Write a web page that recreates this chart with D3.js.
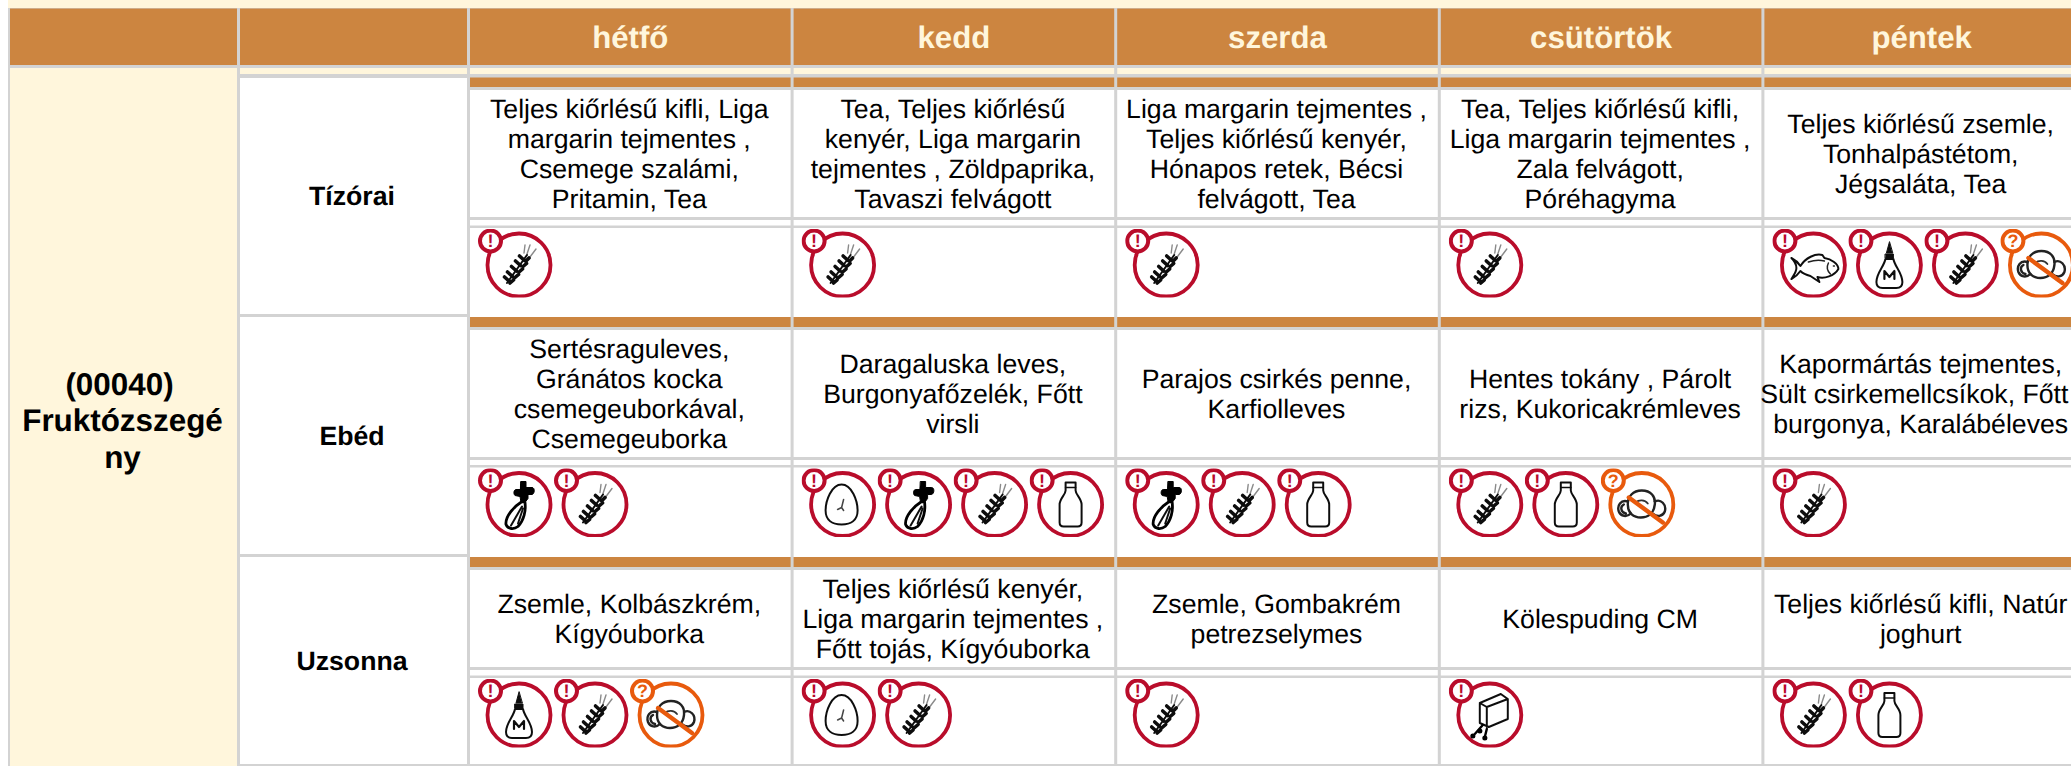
<!DOCTYPE html>
<html>
<head>
<meta charset="utf-8">
<script src="https://cdn.jsdelivr.net/npm/d3@7"></script>
<style>
  html, body { margin: 0; padding: 0; background: #fff; overflow: hidden; }
  svg { display: block; font-family: "Liberation Sans", Arial, sans-serif; text-rendering: geometricPrecision; }
</style>
</head>
<body>
<svg id="menu" width="2071" height="766"></svg>
<script>
// Adatok
const days = ["hétfő", "kedd", "szerda", "csütörtök", "péntek"];
const meals = ["Tízórai", "Ebéd", "Uzsonna"];
const dietLines = ["(00040)", "Fruktózszegé", "ny"];

const tizoraiFoods = [
  ["Teljes kiőrlésű kifli, Liga", "margarin tejmentes ,", "Csemege szalámi,", "Pritamin, Tea"],
  ["Tea, Teljes kiőrlésű", "kenyér, Liga margarin", "tejmentes , Zöldpaprika,", "Tavaszi felvágott"],
  ["Liga margarin tejmentes ,", "Teljes kiőrlésű kenyér,", "Hónapos retek, Bécsi", "felvágott, Tea"],
  ["Tea, Teljes kiőrlésű kifli,", "Liga margarin tejmentes ,", "Zala felvágott,", "Póréhagyma"],
  ["Teljes kiőrlésű zsemle,", "Tonhalpástétom,", "Jégsaláta, Tea"]
];
const ebedFoods = [
  ["Sertésraguleves,", "Gránátos kocka", "csemegeuborkával,", "Csemegeuborka"],
  ["Daragaluska leves,", "Burgonyafőzelék, Főtt", "virsli"],
  ["Parajos csirkés penne,", "Karfiolleves"],
  ["Hentes tokány , Párolt", "rizs, Kukoricakrémleves"],
  ["Kapormártás tejmentes,", "Sült csirkemellcsíkok, Főtt", "burgonya, Karalábéleves"]
];
const uzsonnaFoods = [
  ["Zsemle, Kolbászkrém,", "Kígyóuborka"],
  ["Teljes kiőrlésű kenyér,", "Liga margarin tejmentes ,", "Főtt tojás, Kígyóuborka"],
  ["Zsemle, Gombakrém", "petrezselymes"],
  ["Kölespuding CM"],
  ["Teljes kiőrlésű kifli, Natúr", "joghurt"]
];

const tizoraiIcons = [["wheat"], ["wheat"], ["wheat"], ["wheat"], ["fish", "mayo", "wheat", "soy"]];
const ebedIcons = [["celery", "wheat"], ["egg", "celery", "wheat", "milk"], ["celery", "wheat", "milk"], ["wheat", "milk", "soy"], ["wheat"]];
const uzsonnaIcons = [["mayo", "wheat", "soy"], ["egg", "wheat"], ["wheat"], ["cart"], ["wheat", "milk"]];

const foodsByMeal = [tizoraiFoods, ebedFoods, uzsonnaFoods];
const iconsByMeal = [tizoraiIcons, ebedIcons, uzsonnaIcons];
const maybeIcons = ["soy"]; // narancs keret, kérdőjel

// Színek
const brown = "#cc8540", grid = "#d3d3d3", cream = "#fff6dc";
const red = "#b9082c", amber = "#e85a0c";

// Sorok függőleges felosztása (px)
const rowBox = [
  { top: 77, bar: 77.5, text: 90, textEnd: 217, icon: 228, end: 317, labelEnd: 314 },
  { top: 317, bar: 317, text: 330, textEnd: 457, icon: 467.5, end: 557, labelEnd: 554 },
  { top: 557, bar: 557, text: 570, textEnd: 667, icon: 678, end: 764, labelEnd: 764 }
];

const x = d3.scaleBand().domain(days).range([470, 2085]).paddingInner(3 / 323).paddingOuter(0);
const xIcon = d3.scaleLinear().domain([0, 1]).range([8, 84]);
// az utolsó oszlop keskenyebb, a szövege kicsit balrább van
const textMid = d => x.bandwidth() / 2 - (d === "péntek" ? 3 : 0);
const svg = d3.select("#menu");

// Ikon rajzok
const defs = svg.append("defs");
defs.append("clipPath").attr("id", "iconClip").append("rect").attr("width", 84).attr("height", 68.5);
defs.append("filter").attr("id", "soft").append("feGaussianBlur").attr("stdDeviation", 0.55);

const glyphs = {
  wheat: [
    { d: "M49 25L52 16M52 28L58 20M46 24L47 16", stroke: "#8a8a8a", w: 1.4 },
    { d: "M29 54L49 26", stroke: "#111", w: 2 },
    { d: "M26.5 48L31 52M29.5 43L34.5 47.5M33.5 37.5L38.5 42M37.5 32L42.5 36.5M41.5 27L46.5 31.5M32 54L35.5 51M37 48.5L40.5 45.5M41 43L44.5 40M45 37.5L48.5 34.5M48 32L51 29", stroke: "#0a0a0a", w: 3.6 }
  ],
  fish: [
    { d: "M19 29C23 31 26 34 28 37C33 29 43 24 50 26L52 29C59 30 66 35 66 40C62 47 52 50 45 48L47 53L38 47C34 46 30 44 28 42C26 45 23 48 19 50C22 45 24 43 24 39C24 36 22 32 19 29Z", stroke: "#111", w: 2 },
    { d: "M36 33C42 31 48 31 52 32M56 34C54 38 55 42 58 45M61 37L62 37", stroke: "#222", w: 1.5 }
  ],
  mayo: [
    { d: "M41 13L38 24H44Z", fill: "#111", stroke: "#111", w: 1 },
    { d: "M37 25H45V29H37Z", fill: "#111", stroke: "#111", w: 1 },
    { d: "M37 30C36 37 28 44 28 53C28 58 31 59 34 59H48C51 59 54 58 54 53C54 44 46 37 45 30Z", stroke: "#111", w: 2 },
    { d: "M36 50V42L41 48L46 42V50", stroke: "#111", w: 2.2 }
  ],
  celery: [
    { d: "M43 13H48V19H54C57 19 57 25 54 26H50V30L47 34H43L42 28L37 27C35 25 36 21 38 21H42Z", fill: "#000", stroke: "#000", w: 1 },
    { d: "M44 33C36 38 27 48 28 56C30 61 36 61 40 58C46 52 48 42 47 34Z", stroke: "#000", w: 2.8 },
    { d: "M44 38L33 57M45 40L40 55", stroke: "#111", w: 2 }
  ],
  egg: [
    { d: "M40 16C50 16 56 32 56 42C56 52 49 56 40 56C31 56 24 52 24 42C24 32 30 16 40 16Z", stroke: "#111", w: 2 },
    { d: "M42 31L40 39L36 41M40 39L42 42", stroke: "#444", w: 1.5 }
  ],
  milk: [
    { d: "M36 14H46V22C46 26 52 30 52 36V54C52 57 50 58 48 58H34C32 58 30 57 30 54V36C30 30 36 26 36 22Z", stroke: "#111", w: 2 },
    { d: "M36 19H46", stroke: "#111", w: 1.6 }
  ],
  soy: [
    { d: "M41 22C50 22 55 28 54 36C53 45 47 49 40 49C33 49 27 45 27 36C27 28 32 22 41 22Z", stroke: "#222", w: 2.4 },
    { d: "M27 33C20 31 16 37 18 43C20 48 26 49 30 45M23 36C19 38 20 44 25 45M54 33C60 30 66 36 64 43C62 48 56 49 52 45", stroke: "#222", w: 2.4 },
    { d: "M35 34C38 31 44 31 47 35", stroke: "#333", w: 1.8 },
    { d: "M28 29L62 54", stroke: amber, w: 4.4 }
  ],
  cart: [
    { d: "M31 24L52 15L59 20V40L40 48L31 44ZM31 24L38 28V48M38 28L59 20", stroke: "#111", w: 2 },
    { d: "M34 46L26 55M38 50L36 58", stroke: "#000", w: 2.4 },
    { d: "M24 57h0.1M36 59h0.1M31 52h0.1", stroke: "#000", w: 5 }
  ]
};

Object.keys(glyphs).forEach(name => {
  const g = defs.append("g").attr("id", "glyph-" + name);
  glyphs[name].forEach(p => {
    g.append("path")
      .attr("d", p.d)
      .attr("fill", p.fill || "none")
      .attr("stroke", p.stroke)
      .attr("stroke-width", p.w)
      .attr("stroke-linecap", "round")
      .attr("stroke-linejoin", "round");
  });
});

// Alap: szürke rács és krém sáv felül
svg.append("rect").attr("x", 8).attr("width", 2063).attr("height", 8).attr("fill", cream);
svg.append("rect").attr("x", 8).attr("y", 8).attr("width", 2063).attr("height", 758).attr("fill", grid);

// Fejléc
svg.append("rect").attr("x", 10).attr("y", 8.5).attr("width", 227).attr("height", 56.5).attr("fill", brown);
svg.append("rect").attr("x", 240).attr("y", 8.5).attr("width", 227).attr("height", 56.5).attr("fill", brown);
svg.selectAll("rect.head").data(days).join("rect")
  .attr("class", "head")
  .attr("x", d => x(d)).attr("y", 8.5)
  .attr("width", x.bandwidth()).attr("height", 56.5)
  .attr("fill", brown);
svg.selectAll("text.head").data(days).join("text")
  .attr("class", "head")
  .attr("x", d => x(d) + textMid(d)).attr("y", 37)
  .attr("dy", "0.35em")
  .attr("text-anchor", "middle")
  .attr("font-size", 31.2).attr("font-weight", "bold")
  .attr("fill", cream)
  .text(d => d);

// Krém sáv a fejléc alatt
svg.append("rect").attr("x", 240).attr("y", 68).attr("width", 227).attr("height", 6).attr("fill", cream);
svg.selectAll("rect.strip").data(days).join("rect")
  .attr("class", "strip")
  .attr("x", d => x(d)).attr("y", 68)
  .attr("width", x.bandwidth()).attr("height", 6)
  .attr("fill", cream);

// Diéta oszlop
svg.append("rect").attr("x", 10).attr("y", 68).attr("width", 227).attr("height", 698).attr("fill", cream);
svg.selectAll("text.diet").data(dietLines).join("text")
  .attr("class", "diet")
  .attr("x", (d, i) => i === 0 ? 119.5 : 122.5)
  .attr("y", (d, i) => 384 + i * 36.5)
  .attr("dy", "0.35em")
  .attr("text-anchor", "middle")
  .attr("font-size", 31.4).attr("font-weight", "bold")
  .attr("fill", "#000")
  .text(d => d);

// Étkezések
meals.forEach((meal, m) => {
  const box = rowBox[m];
  const row = svg.append("g").attr("class", "meal");

  row.append("rect").attr("x", 240).attr("y", box.top + (m === 0 ? 1 : 0))
    .attr("width", 227).attr("height", box.labelEnd - box.top - (m === 0 ? 1 : 0)).attr("fill", "#fff");
  row.append("text")
    .attr("x", 352).attr("y", (box.top + box.labelEnd) / 2)
    .attr("dy", "0.35em")
    .attr("text-anchor", "middle")
    .attr("font-size", 26.67).attr("font-weight", "bold")
    .text(meal);

  const cell = row.selectAll("g.day").data(days).join("g")
    .attr("class", "day")
    .attr("transform", d => `translate(${x(d)},0)`);

  cell.append("rect").attr("y", box.bar).attr("width", x.bandwidth()).attr("height", box.text - 3 - box.bar).attr("fill", brown);
  cell.append("rect").attr("y", box.text).attr("width", x.bandwidth()).attr("height", box.textEnd - box.text).attr("fill", "#fff");
  cell.append("rect").attr("y", box.textEnd + 3).attr("width", x.bandwidth()).attr("height", box.icon - 2.5 - box.textEnd - 3).attr("fill", "#fff");
  cell.append("rect").attr("y", box.icon).attr("width", x.bandwidth()).attr("height", box.end - box.icon).attr("fill", "#fff");

  // Ételek szövege, soronként
  cell.each(function (d, i) {
    const lines = foodsByMeal[m][i];
    const mid = (box.text + box.textEnd) / 2;
    d3.select(this).selectAll("text").data(lines).join("text")
      .attr("x", textMid(d) - 1)
      .attr("y", (l, k) => mid + (k - (lines.length - 1) / 2) * 30)
      .attr("dy", "0.35em")
      .attr("text-anchor", "middle")
      .attr("font-size", 26.67)
      .attr("fill", "#000")
      .text(l => l)
      .attr("dx", function () {
        // a leghosszabb sor ne lógjon ki a képből
        const over = x(d) + this.getBBox().x + this.getBBox().width - 2069;
        return over > 0 ? -over : 0;
      });

    // Allergén ikonok
    const icon = d3.select(this).selectAll("g.icon").data(iconsByMeal[m][i]).join("g")
      .attr("class", "icon")
      .attr("transform", (a, k) => `translate(${xIcon(k)},${box.icon + 1})`)
      .attr("clip-path", "url(#iconClip)");
    const color = a => maybeIcons.includes(a) ? amber : red;
    const art = icon.append("g").attr("filter", "url(#soft)");
    art.append("circle")
      .attr("cx", 41).attr("cy", 36).attr("r", 31.5)
      .attr("fill", "#fff").attr("stroke", color).attr("stroke-width", 3.8);
    art.append("use").attr("href", a => "#glyph-" + a);
    art.append("circle")
      .attr("cx", 12.5).attr("cy", 12).attr("r", 10.5)
      .attr("fill", "#fff").attr("stroke", color).attr("stroke-width", 4);
    icon.append("text")
      .attr("x", 12.5).attr("y", 12)
      .attr("dy", "0.36em")
      .attr("text-anchor", "middle")
      .attr("font-size", 18).attr("font-weight", "bold")
      .attr("fill", color)
      .text(a => maybeIcons.includes(a) ? "?" : "!");
  });
});
</script>
</body>
</html>
